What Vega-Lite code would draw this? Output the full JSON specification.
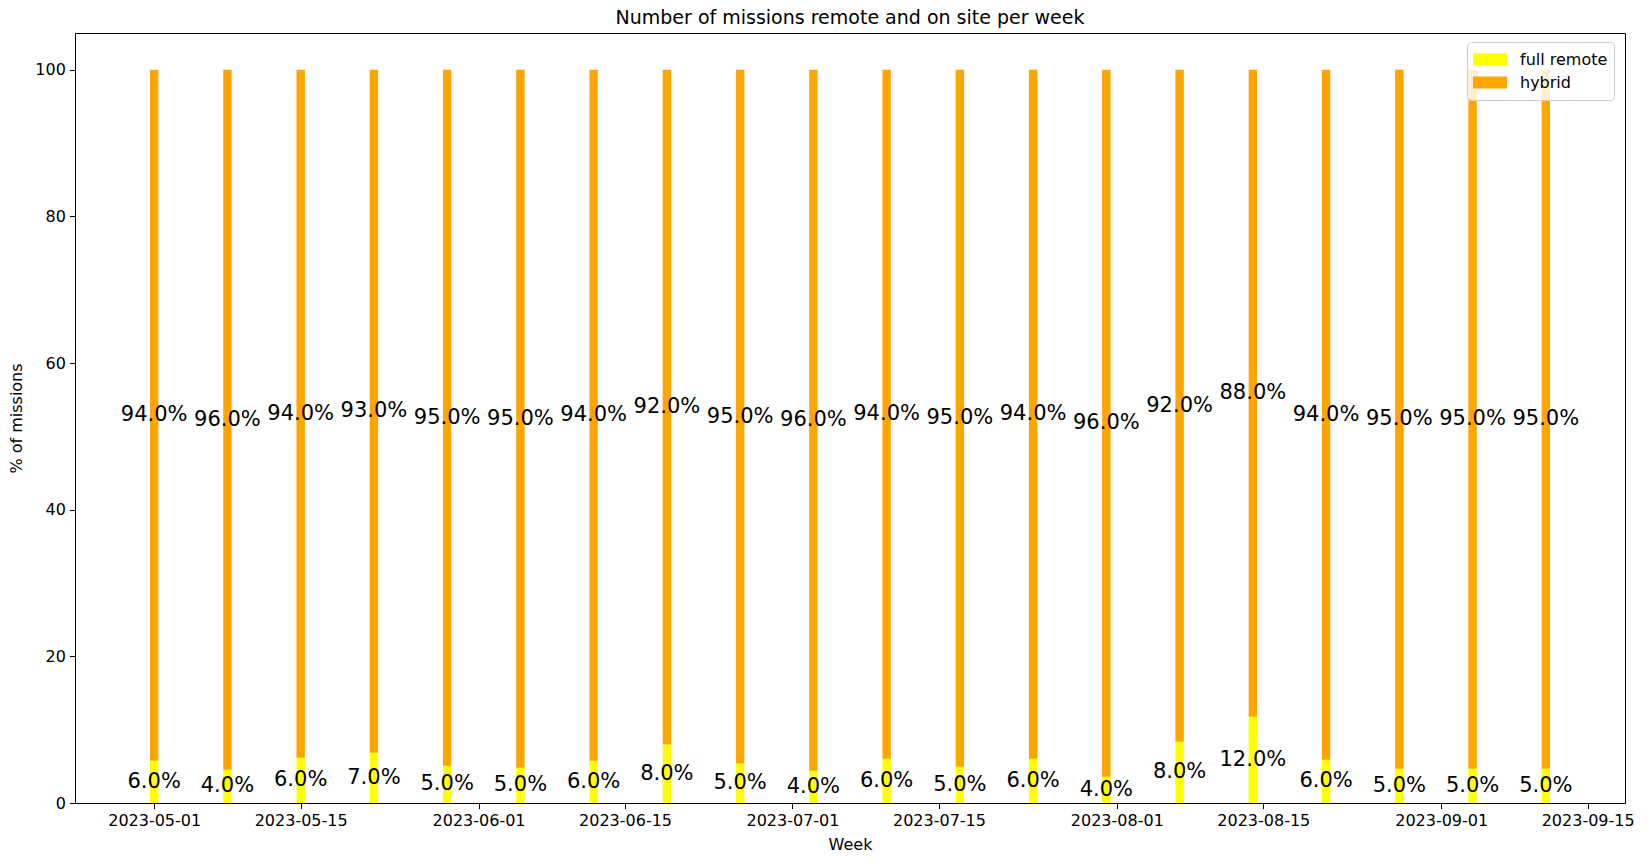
{
  "$schema": "https://vega.github.io/schema/vega-lite/v6.json",
  "autosize": "none",
  "width": 1550,
  "height": 770,
  "padding": {"left": 75, "top": 33, "right": 25, "bottom": 61},
  "background": "white",
  "title": {
    "text": "Number of missions remote and on site per week",
    "font": "DejaVu Sans",
    "fontSize": 19,
    "fontWeight": "normal",
    "color": "black",
    "anchor": "middle",
    "offset": 5
  },
  "config": {
    "view": {"stroke": "black", "strokeWidth": 1},
    "axis": {
      "labelFont": "DejaVu Sans",
      "labelFontSize": 16,
      "labelColor": "black",
      "titleFont": "DejaVu Sans",
      "titleFontSize": 16,
      "titleFontWeight": "normal",
      "titleColor": "black",
      "domainColor": "black",
      "tickColor": "black",
      "tickSize": 5.6,
      "grid": false
    },
    "legend": {
      "labelFont": "DejaVu Sans",
      "labelFontSize": 16,
      "labelColor": "black"
    }
  },
  "data": {
    "values": [
      {"week": "2023-05-01", "mode": "full remote", "share": 5.77, "label": "6.0%"},
      {"week": "2023-05-01", "mode": "hybrid", "share": 94.23, "label": "94.0%"},
      {"week": "2023-05-08", "mode": "full remote", "share": 4.54, "label": "4.0%"},
      {"week": "2023-05-08", "mode": "hybrid", "share": 95.46, "label": "96.0%"},
      {"week": "2023-05-15", "mode": "full remote", "share": 6.18, "label": "6.0%"},
      {"week": "2023-05-15", "mode": "hybrid", "share": 93.82, "label": "94.0%"},
      {"week": "2023-05-22", "mode": "full remote", "share": 6.86, "label": "7.0%"},
      {"week": "2023-05-22", "mode": "hybrid", "share": 93.14, "label": "93.0%"},
      {"week": "2023-05-29", "mode": "full remote", "share": 5.09, "label": "5.0%"},
      {"week": "2023-05-29", "mode": "hybrid", "share": 94.91, "label": "95.0%"},
      {"week": "2023-06-05", "mode": "full remote", "share": 4.81, "label": "5.0%"},
      {"week": "2023-06-05", "mode": "hybrid", "share": 95.19, "label": "95.0%"},
      {"week": "2023-06-12", "mode": "full remote", "share": 5.77, "label": "6.0%"},
      {"week": "2023-06-12", "mode": "hybrid", "share": 94.23, "label": "94.0%"},
      {"week": "2023-06-19", "mode": "full remote", "share": 7.99, "label": "8.0%"},
      {"week": "2023-06-19", "mode": "hybrid", "share": 92.01, "label": "92.0%"},
      {"week": "2023-06-26", "mode": "full remote", "share": 5.40, "label": "5.0%"},
      {"week": "2023-06-26", "mode": "hybrid", "share": 94.60, "label": "95.0%"},
      {"week": "2023-07-03", "mode": "full remote", "share": 4.40, "label": "4.0%"},
      {"week": "2023-07-03", "mode": "hybrid", "share": 95.60, "label": "96.0%"},
      {"week": "2023-07-10", "mode": "full remote", "share": 6.04, "label": "6.0%"},
      {"week": "2023-07-10", "mode": "hybrid", "share": 93.96, "label": "94.0%"},
      {"week": "2023-07-17", "mode": "full remote", "share": 4.95, "label": "5.0%"},
      {"week": "2023-07-17", "mode": "hybrid", "share": 95.05, "label": "95.0%"},
      {"week": "2023-07-24", "mode": "full remote", "share": 6.04, "label": "6.0%"},
      {"week": "2023-07-24", "mode": "hybrid", "share": 93.96, "label": "94.0%"},
      {"week": "2023-07-31", "mode": "full remote", "share": 3.59, "label": "4.0%"},
      {"week": "2023-07-31", "mode": "hybrid", "share": 96.41, "label": "96.0%"},
      {"week": "2023-08-07", "mode": "full remote", "share": 8.36, "label": "8.0%"},
      {"week": "2023-08-07", "mode": "hybrid", "share": 91.64, "label": "92.0%"},
      {"week": "2023-08-14", "mode": "full remote", "share": 11.76, "label": "12.0%"},
      {"week": "2023-08-14", "mode": "hybrid", "share": 88.24, "label": "88.0%"},
      {"week": "2023-08-21", "mode": "full remote", "share": 5.90, "label": "6.0%"},
      {"week": "2023-08-21", "mode": "hybrid", "share": 94.10, "label": "94.0%"},
      {"week": "2023-08-28", "mode": "full remote", "share": 4.68, "label": "5.0%"},
      {"week": "2023-08-28", "mode": "hybrid", "share": 95.32, "label": "95.0%"},
      {"week": "2023-09-04", "mode": "full remote", "share": 4.68, "label": "5.0%"},
      {"week": "2023-09-04", "mode": "hybrid", "share": 95.32, "label": "95.0%"},
      {"week": "2023-09-11", "mode": "full remote", "share": 4.68, "label": "5.0%"},
      {"week": "2023-09-11", "mode": "hybrid", "share": 95.32, "label": "95.0%"}
    ]
  },
  "encoding": {
    "x": {
      "field": "week",
      "type": "temporal",
      "scale": {
        "type": "utc",
        "domain": [1682286624000, 1695002976000],
        "nice": false
      },
      "axis": {
        "title": "Week",
        "format": "%Y-%m-%d",
        "labelAngle": 0,
        "labelPadding": 4,
        "titlePadding": 8,
        "values": [1682899200000, 1684108800000, 1685577600000, 1686787200000, 1688169600000, 1689379200000, 1690848000000, 1692057600000, 1693526400000, 1694736000000]
      }
    }
  },
  "layer": [
    {
      "mark": {"type": "bar", "width": 8.4},
      "encoding": {
        "y": {
          "field": "share",
          "type": "quantitative",
          "stack": "zero",
          "scale": {"domain": [0, 105], "nice": false},
          "axis": {
            "title": "% of missions",
            "values": [0, 20, 40, 60, 80, 100],
            "labelPadding": 4,
            "titlePadding": 10
          }
        },
        "order": {"field": "mode", "sort": "ascending"},
        "color": {
          "field": "mode",
          "type": "nominal",
          "scale": {"domain": ["full remote", "hybrid"], "range": ["#ffff00", "#ffa500"]},
          "legend": {
            "title": null,
            "orient": "none",
            "legendX": 1392,
            "legendY": 9,
            "symbolType": "M-1,-0.35L1,-0.35L1,0.35L-1,0.35Z",
            "symbolSize": 1156,
            "symbolStrokeWidth": 0,
            "clipHeight": 23,
            "rowPadding": 0,
            "labelOffset": 13,
            "padding": 6,
            "fillColor": "rgba(255,255,255,0.8)",
            "strokeColor": "#cccccc",
            "cornerRadius": 4
          }
        }
      }
    },
    {
      "transform": [
        {"stack": "share", "groupby": ["week"], "sort": [{"field": "mode", "order": "ascending"}], "as": ["lo", "hi"]},
        {"fold": ["lo", "hi"], "as": ["edge", "pos"]},
        {"aggregate": [{"op": "mean", "field": "pos", "as": "mid"}], "groupby": ["week", "mode", "label"]}
      ],
      "mark": {"type": "text", "font": "DejaVu Sans", "fontSize": 21, "color": "black", "align": "center", "baseline": "middle"},
      "encoding": {
        "y": {"field": "mid", "type": "quantitative"},
        "text": {"field": "label", "type": "nominal"}
      }
    }
  ]
}
